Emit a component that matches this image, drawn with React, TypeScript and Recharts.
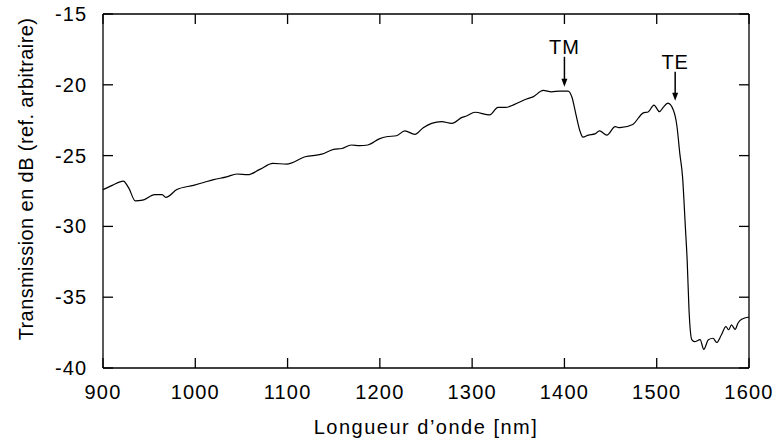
import React from "react";
import {
  LineChart,
  Line,
  XAxis,
  YAxis,
  ReferenceLine,
} from "recharts";

// wavelength in nm
const wavelengths = [
  900, 910, 922, 928, 935, 943, 956, 964, 968, 980, 998, 1009, 1020, 1034,
  1045, 1057, 1070, 1084, 1099, 1119, 1137, 1150, 1159, 1169, 1178, 1187,
  1200, 1207, 1218, 1227, 1238, 1247, 1256, 1267, 1278, 1289, 1294, 1303,
  1319, 1328, 1336, 1346, 1359, 1366, 1377, 1386, 1395, 1404, 1408, 1413,
  1417, 1420, 1426, 1433, 1438, 1446, 1455, 1460, 1474, 1485, 1491, 1497,
  1503, 1507, 1512, 1518, 1522, 1525, 1528, 1531, 1533, 1535, 1538, 1541,
  1547, 1551, 1556, 1561, 1565, 1570, 1575, 1578, 1581, 1585, 1588, 1592,
  1600,
];

// transmission in dB
const transmission = [
  -27.4, -27.1, -26.8, -27.3, -28.2, -28.15, -27.75, -27.75, -27.95, -27.4,
  -27.1, -26.9, -26.7, -26.5, -26.3, -26.35, -25.97, -25.55, -25.6, -25.08,
  -24.9, -24.56, -24.5, -24.25, -24.3, -24.25, -23.8, -23.67, -23.6, -23.26,
  -23.5, -23.03, -22.72, -22.6, -22.72, -22.3, -22.2, -21.94, -22.13, -21.6,
  -21.6, -21.38, -21.0, -20.85, -20.4, -20.5, -20.44, -20.44, -20.84, -22.25,
  -23.3, -23.7, -23.55, -23.47, -23.26, -23.55, -22.96, -23.03, -22.8, -22.0,
  -21.9, -21.43, -21.9, -21.6, -21.3, -21.78, -22.96, -24.84, -26.5, -30.0,
  -32.4, -35.9, -38.0, -38.14, -38.0, -38.68, -38.0, -37.9, -38.2, -37.67,
  -37.08, -37.3, -36.96, -37.27, -36.84, -36.56, -36.4,
];

const xTicks = [900, 1000, 1100, 1200, 1300, 1400, 1500, 1600];
const yTicks = [-40, -35, -30, -25, -20, -15];

// mode markers: label, wavelength, arrow top / tip (dB)
const markers = [
  { label: "TM", nm: 1400, top: -18.02, tip: -20.13 },
  { label: "TE", nm: 1520, top: -19.07, tip: -21.12 },
];

const data = wavelengths.map((nm, i) => ({ nm, db: transmission[i] }));

const FONT = "'Liberation Sans', Arial, Helvetica, sans-serif";
const TICK_LEN = 10;

const BottomTick = (props: any) => {
  const { x, y, payload } = props;
  return (
    <g>
      <line x1={x} y1={y} x2={x} y2={y - TICK_LEN} stroke="#000" strokeWidth={1.3} />
      <text
        x={x}
        y={y + 31}
        textAnchor="middle"
        fontSize={20}
        fontFamily={FONT}
        letterSpacing={1.2}
        fill="#000"
      >
        {payload.value}
      </text>
    </g>
  );
};

const TopTick = (props: any) => {
  const { x, y } = props;
  return <line x1={x} y1={y} x2={x} y2={y + TICK_LEN} stroke="#000" strokeWidth={1.3} />;
};

const LeftTick = (props: any) => {
  const { x, y, payload } = props;
  return (
    <g>
      <line x1={x} y1={y} x2={x + TICK_LEN} y2={y} stroke="#000" strokeWidth={1.3} />
      <text
        x={x - 16}
        y={y + 7}
        textAnchor="end"
        fontSize={20}
        fontFamily={FONT}
        letterSpacing={1}
        fill="#000"
      >
        {payload.value}
      </text>
    </g>
  );
};

const RightTick = (props: any) => {
  const { x, y } = props;
  return <line x1={x} y1={y} x2={x - TICK_LEN} y2={y} stroke="#000" strokeWidth={1.3} />;
};

const YLabel = (props: any) => {
  const { viewBox } = props;
  const cx = 26;
  const cy = viewBox.y + viewBox.height / 2 - 12;
  return (
    <text
      x={cx}
      y={cy}
      transform={`rotate(-90, ${cx}, ${cy})`}
      textAnchor="middle"
      dominantBaseline="central"
      fontSize={20}
      fontFamily={FONT}
      letterSpacing={0.4}
      fill="#000"
    >
      Transmission en dB (ref. arbitraire)
    </text>
  );
};

const arrowShape = (label: string) => (props: any) => {
  const { x1, y1, x2, y2 } = props;
  return (
    <g>
      <text
        x={x1}
        y={y1 - 3}
        textAnchor="middle"
        fontSize={20}
        fontFamily={FONT}
        letterSpacing={1}
        fill="#000"
      >
        {label}
      </text>
      <line x1={x1} y1={y1} x2={x2} y2={y2 - 6} stroke="#000" strokeWidth={1.5} />
      <polygon
        points={`${x2 - 3},${y2 - 8} ${x2 + 3},${y2 - 8} ${x2},${y2}`}
        fill="#000"
      />
    </g>
  );
};

export default function App() {
  return (
    <div style={{ position: "absolute", left: 0, top: 0, background: "#fff" }}>
      <LineChart
        width={780}
        height={444}
        data={data}
        margin={{ top: 13, right: 30, bottom: 0, left: 0 }}
      >
        <XAxis
          dataKey="nm"
          type="number"
          domain={[900, 1600]}
          ticks={xTicks}
          interval={0}
          height={76}
          tickSize={0}
          tickMargin={0}
          tick={<BottomTick />}
          axisLine={{ stroke: "#000", strokeWidth: 1.3 }}
          label={{
            value: "Longueur d\u2019onde [nm]",
            position: "insideBottom",
            offset: 10,
            style: { fontSize: 20, fontFamily: FONT, letterSpacing: 1.5, fill: "#000" },
          }}
        />
        <XAxis
          xAxisId="top"
          dataKey="nm"
          orientation="top"
          type="number"
          domain={[900, 1600]}
          ticks={xTicks}
          interval={0}
          height={1}
          tickSize={0}
          tickMargin={0}
          tick={<TopTick />}
          axisLine={{ stroke: "#000", strokeWidth: 1.3 }}
        />
        <YAxis
          type="number"
          domain={[-40, -15]}
          ticks={yTicks}
          interval={0}
          width={103}
          tickSize={0}
          tickMargin={0}
          tick={<LeftTick />}
          axisLine={{ stroke: "#000", strokeWidth: 1.3 }}
          label={<YLabel />}
        />
        <YAxis
          yAxisId="right"
          orientation="right"
          type="number"
          domain={[-40, -15]}
          ticks={yTicks}
          interval={0}
          width={1}
          tickSize={0}
          tickMargin={0}
          tick={<RightTick />}
          axisLine={{ stroke: "#000", strokeWidth: 1.3 }}
        />
        {markers.map((m) => (
          <ReferenceLine
            key={m.label}
            segment={[
              { x: m.nm, y: m.top },
              { x: m.nm, y: m.tip },
            ]}
            ifOverflow="visible"
            shape={arrowShape(m.label)}
          />
        ))}
        {/* invisible copy so the mirrored top/right axes get drawn */}
        <Line
          xAxisId="top"
          yAxisId="right"
          dataKey="db"
          stroke="none"
          dot={false}
          legendType="none"
          isAnimationActive={false}
        />
        <Line
          type="monotone"
          dataKey="db"
          stroke="#000"
          strokeWidth={1.2}
          dot={false}
          isAnimationActive={false}
        />
      </LineChart>
    </div>
  );
}
